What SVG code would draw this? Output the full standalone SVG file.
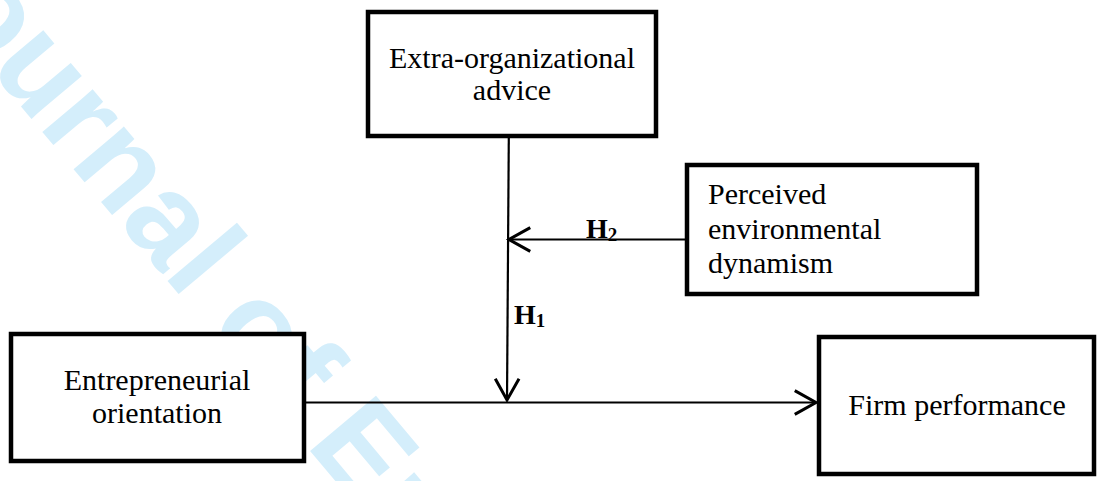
<svg xmlns="http://www.w3.org/2000/svg" width="1097" height="481" viewBox="0 0 1097 481">
<style>
.box{fill:#fff;stroke:#000;stroke-width:4.5}
.lbl{font-family:"Liberation Serif","Times New Roman",serif;font-size:30px;fill:#000}
.h{font-family:"Liberation Serif","Times New Roman",serif;font-weight:bold;font-size:28px;fill:#000}
.conn{stroke:#000;stroke-width:2.2;fill:none}
.wm{font-family:"Liberation Sans",Arial,sans-serif;font-weight:bold;font-size:125px;fill:#d4eefb}
</style>
<defs>
<marker id="arr" markerUnits="userSpaceOnUse" markerWidth="30" markerHeight="30" viewBox="-20 -12 24 24" refX="0" refY="0" orient="auto">
<path d="M-17,-9.5 L0,0 L-17,9.5" fill="none" stroke="#000" stroke-width="2.4"/>
</marker>
</defs>
<text class="wm" transform="translate(-106,-45) rotate(50)">Journal of Entrepreneurship</text>
<g id="connectors">
<line class="conn" x1="304" y1="402.5" x2="816" y2="402.5" marker-end="url(#arr)"/>
<line class="conn" x1="508.8" y1="137" x2="507" y2="400" marker-end="url(#arr)"/>
<line class="conn" x1="687" y1="239.5" x2="509" y2="239.5" marker-end="url(#arr)"/>
<text class="h" x="586" y="237.5">H<tspan font-size="19" dy="3">2</tspan></text>
<text class="h" x="514" y="324">H<tspan font-size="19" dy="3">1</tspan></text>
</g>
<g id="node-advice">
<rect class="box" x="368" y="12" width="288" height="124"/>
<text class="lbl" x="512" y="68" text-anchor="middle">Extra-organizational</text>
<text class="lbl" x="512" y="100" text-anchor="middle">advice</text>
</g>
<g id="node-dynamism">
<rect class="box" x="687" y="165" width="290" height="129"/>
<text class="lbl" x="708" y="204">Perceived</text>
<text class="lbl" x="708" y="239">environmental</text>
<text class="lbl" x="708" y="273">dynamism</text>
</g>
<g id="node-eo">
<rect class="box" x="11" y="334" width="293" height="127"/>
<text class="lbl" x="157" y="390" text-anchor="middle">Entrepreneurial</text>
<text class="lbl" x="157" y="423" text-anchor="middle">orientation</text>
</g>
<g id="node-performance">
<rect class="box" x="819" y="337" width="275" height="137"/>
<text class="lbl" x="957" y="415" text-anchor="middle">Firm performance</text>
</g>
</svg>
